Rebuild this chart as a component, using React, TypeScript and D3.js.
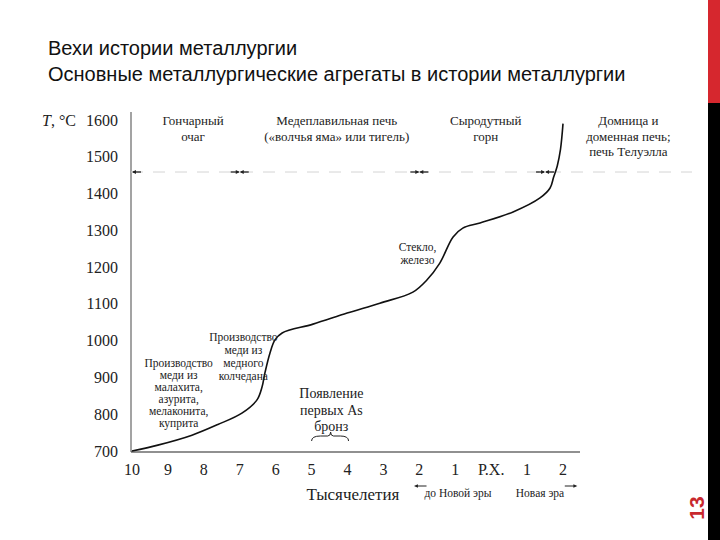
import React from "react";
import * as d3 from "d3";

const titleLines = ["Вехи истории металлургии", "Основные металлургические агрегаты в истории металлургии"];

// x: thousands of years, negative = BC, 0 = Р.Х.
const xTickValues = [-10, -9, -8, -7, -6, -5, -4, -3, -2, -1, 0, 1, 2];
const xTickLabels = ["10", "9", "8", "7", "6", "5", "4", "3", "2", "1", "Р.Х.", "1", "2"];
const yTickValues = [700, 800, 900, 1000, 1100, 1200, 1300, 1400, 1500, 1600];

const curveX = [-10, -9.28, -8.33, -7.61, -6.94, -6.52, -6.38, -6.3, -6.16, -6.02, -5.82, -4.96, -4.01, -3.1, -2.18, -1.79, -1.43, -1.06, -0.79, -0.31, 0.61, 1.36, 1.64, 1.74, 1.84, 1.93, 2.0];
const curveT = [700, 716, 743, 772, 803, 839, 874, 912, 966, 1002, 1021, 1045, 1075, 1102, 1132, 1165, 1211, 1282, 1306, 1320, 1350, 1388, 1415, 1445, 1475, 1520, 1590];

const eraBoundaries = [-10, -7, -2, 1.5];
const eraLabels = [
  { x: -8.3, lines: ["Гончарный", "очаг"] },
  { x: -4.3, lines: ["Медеплавильная печь", "(«волчья яма» или тигель)"] },
  { x: -0.15, lines: ["Сыродутный", "горн"] },
  { x: 3.82, lines: ["Домница и", "доменная печь;", "печь Телуэлла"] },
];

const annotations = [
  { x: -8.7, t: 928, lines: ["Производство", "меди из", "малахита,", "азурита,", "мелаконита,", "куприта"] },
  { x: -6.9, t: 1000, lines: ["Производство", "меди из", "медного", "колчедана"] },
  { x: -2.05, t: 1244, lines: ["Стекло,", "железо"] },
];
const bronzeLines = ["Появление", "первых As", "бронз"];

export default function App() {
  const W = 720, H = 540;
  const x = d3.scaleLinear().domain([-10, 2]).range([132, 563]);
  const y = d3.scaleLinear().domain([700, 1600]).range([451, 120]);
  const axisY = 452;
  const pts: [number, number][] = curveX.map((v, i) => [v, curveT[i]]);
  const line = d3.line<[number, number]>().x(d => x(d[0])).y(d => y(d[1])).curve(d3.curveCatmullRom.alpha(0.5));
  const serif = "'Liberation Serif', 'DejaVu Serif', serif";
  const ink = "#222";
  const dashY = 172;

  return (
    <svg width={W} height={H} style={{ position: "absolute", left: 0, top: 0, background: "#fff" }}>
      <rect x={0} y={0} width={W} height={H} fill="#fff" />
      {/* title */}
      {titleLines.map((t, i) => (
        <text key={i} x={48} y={55 + i * 26} fontFamily="'Liberation Sans', Arial, sans-serif" fontSize={20} fill="#111">{t}</text>
      ))}
      {/* right bar */}
      <rect x={708} y={0} width={12} height={103} fill="#d6272e" />
      <rect x={708} y={103} width={12} height={437} fill="#000" />
      <text transform="translate(704,508) rotate(-90)" textAnchor="middle" fontFamily="'Liberation Sans', Arial, sans-serif" fontWeight="bold" fontSize={21} fill="#c8282e">13</text>

      {/* axes */}
      <line x1={131} x2={131} y1={112} y2={axisY} stroke="#666" strokeWidth={1.2} />
      <line x1={131} x2={580} y1={axisY} y2={axisY} stroke="#222" strokeWidth={1.2} />
      {yTickValues.map(v => (
        <text key={v} x={118} y={y(v)} dy="0.35em" textAnchor="end" fontFamily={serif} fontSize={16} fill={ink}>{v}</text>
      ))}
      <text x={42} y={y(1600)} dy="0.35em" fontFamily={serif} fontSize={16} fill={ink}>
        <tspan fontStyle="italic">T</tspan>, °C
      </text>
      {xTickValues.map((v, i) => (
        <text key={i} x={x(v)} y={475} textAnchor="middle" fontFamily={serif} fontSize={16} fill={ink}>{xTickLabels[i]}</text>
      ))}
      <text x={353} y={500} textAnchor="middle" fontFamily={serif} fontSize={17} fill={ink}>Тысячелетия</text>
      <text x={458} y={497} textAnchor="middle" fontFamily={serif} fontSize={11.5} fill={ink}>до Новой эры</text>
      <text x={540} y={497} textAnchor="middle" fontFamily={serif} fontSize={11.5} fill={ink}>Новая эра</text>
      <line x1={x(-2.1)} x2={x(-1.8)} y1={486} y2={486} stroke={ink} strokeWidth={1} />
      <path d={`M${x(-2.15)},486 l4,-1.8 l0,3.6 Z`} fill={ink} />
      <line x1={x(2.05)} x2={x(2.35)} y1={486} y2={486} stroke={ink} strokeWidth={1} />
      <path d={`M${x(2.4)},486 l-4,-1.8 l0,3.6 Z`} fill={ink} />

      {/* era dashed line */}
      <line x1={131} x2={692} y1={dashY} y2={dashY} stroke="#d4d4d4" strokeWidth={1} strokeDasharray="12 10" />
      {eraBoundaries.map((b, i) => {
        const bx = x(b);
        return (
          <g key={i}>
            {i > 0 && <line x1={bx - 9} x2={bx - 1} y1={dashY} y2={dashY} stroke={ink} strokeWidth={1.3} />}
            {i > 0 && <path d={`M${bx},${dashY} l-4,-2 l0,4 Z`} fill={ink} />}
            <line x1={bx + 1} x2={bx + 9} y1={dashY} y2={dashY} stroke={ink} strokeWidth={1.3} />
            <path d={`M${bx},${dashY} l4,-2 l0,4 Z`} fill={ink} />
          </g>
        );
      })}
      {eraLabels.map((e, i) => (
        <text key={i} textAnchor="middle" fontFamily={serif} fontSize={13} fill={ink}>
          {e.lines.map((l, j) => (
            <tspan key={j} x={x(e.x)} y={125 + j * 15.5}>{l}</tspan>
          ))}
        </text>
      ))}

      {/* curve */}
      <path d={line(pts) || ""} fill="none" stroke="#111" strokeWidth={1.6} />

      {/* annotations */}
      {annotations.map((a, i) => (
        <text key={i} textAnchor="middle" fontFamily={serif} fontSize={11.5} fill={ink}>
          {a.lines.map((l, j) => (
            <tspan key={j} x={x(a.x)} y={y(a.t) + j * (a.lines.length > 4 ? 12 : 13)}>{l}</tspan>
          ))}
        </text>
      ))}
      <text textAnchor="middle" fontFamily={serif} fontSize={14} fill={ink}>
        {bronzeLines.map((l, j) => (
          <tspan key={j} x={x(-4.45)} y={398 + j * 16.5}>{l}</tspan>
        ))}
      </text>
      <path d={`M${x(-5)},441 Q${x(-5)},436 ${x(-4.75)},436 L${x(-4.55)},436 Q${x(-4.47)},436 ${x(-4.47)},432 Q${x(-4.47)},436 ${x(-4.39)},436 L${x(-4.2)},436 Q${x(-3.97)},436 ${x(-3.97)},441`} fill="none" stroke={ink} strokeWidth={1} />
    </svg>
  );
}
